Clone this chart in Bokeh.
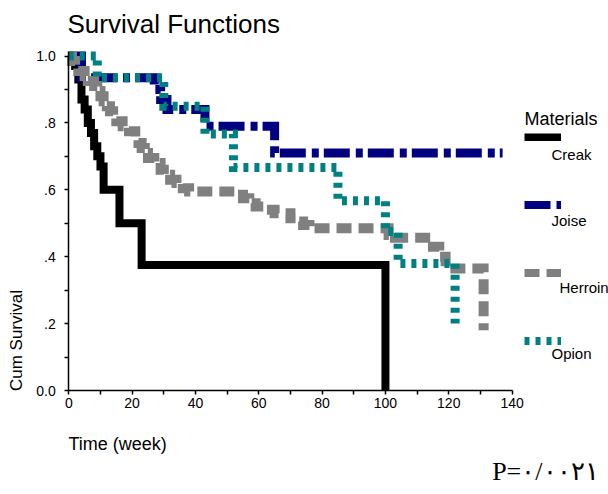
import math
from bokeh.plotting import figure
from bokeh.models import FixedTicker, Label, Legend, LegendItem, Range1d
from bokeh.core.properties import value
from bokeh.embed import file_html
from bokeh.resources import INLINE

# ---------------- data ----------------
groups = ["Creak", "Joise", "Herroin", "Opion"]

creak_time = [0, 2, 3, 4, 5, 6, 7, 8, 9, 10, 11, 16, 23, 100]
creak_surv = [1.0, .97, .93, .87, .84, .80, .77, .73, .70, .67, .60, .50, .375, 0.0]

joise_time = [0, 4, 27, 29, 31, 43, 65, 137]
joise_surv = [1.0, .935, .90, .87, .84, .79, .71, .71]

herroin_time = [0, 1, 2, 3, 5, 6, 8, 9, 10, 11, 12, 13, 14, 15, 17, 19, 21, 22, 23, 24,
                25, 27, 29, 30, 32, 34, 36, 38, 53, 55, 57, 59, 62, 65, 70, 72, 74, 76,
                101, 103, 115, 117, 119, 131]
herroin_surv = [1.0, .985, .97, .955, .94, .925, .91, .895, .88, .865, .85, .835, .82, .805,
                .79, .775, .755, .74, .725, .71, .695, .68, .66, .645, .63, .62, .605, .595,
                .585, .575, .56, .55, .54, .53, .515, .505, .495, .485, .465, .457, .43, .40,
                .365, .18]

opion_time = [0, 9, 30, 43, 52, 85, 100, 104, 122]
opion_surv = [1.0, .935, .85, .767, .667, .567, .475, .38, .20]

x_ticks = [0, 20, 40, 60, 80, 100, 120, 140]
x_minor = [10, 30, 50, 70, 90, 110, 130]
y_ticks = [0, 0.2, 0.4, 0.6, 0.8, 1]
y_tick_labels = ["0.0", ".2", ".4", ".6", ".8", "1.0"]
y_minor = [0.1, 0.3, 0.5, 0.7, 0.9]

title_text = "Survival Functions"
x_title = "Time (week)"
y_title = "Cum Survival"
legend_title = "Materials"
p_text = "P=\u0660/\u0660\u0660\u0662\u0661"

# ---------------- layout / styling ----------------
colors = ["#000000", "#000080", "#808080", "#008080"]
widths = [8, 9, 10, 9]
dashes = ["solid", "26 6 7 5", "15 7", "5 6"]
FONT = "Liberation Sans"

W, H = 608, 494
# plot area in canvas pixels: t=0 at x=68.3, t=140 at x=511.6; s=0 at y=390, s=1 at y=55.5
px0, px1 = 68.3, 511.6
py0, py1 = 390.0, 55.5
kx = (px1 - px0) / 140.0
ky = (py0 - py1) / 1.0
x_start = -px0 / kx
x_end = 140 + (W - px1) / kx
y_start = -(H - py0) / ky
y_end = 1 + py1 / ky

p = figure(width=W, height=H, output_backend="svg", toolbar_location=None,
           x_range=Range1d(x_start, x_end), y_range=Range1d(y_start, y_end),
           min_border=0, min_border_left=0, min_border_right=0,
           min_border_top=0, min_border_bottom=0)
p.outline_line_color = None
p.grid.visible = False
p.background_fill_color = "white"
p.border_fill_color = "white"

series = [(creak_time, creak_surv), (joise_time, joise_surv),
          (herroin_time, herroin_surv), (opion_time, opion_surv)]
renderers = []
for (t, s), c, w, d in zip(series, colors, widths, dashes):
    r = p.step(t, s, mode="after", line_color=c, line_width=w, line_dash=d,
               line_cap="butt", line_join="miter")
    renderers.append(r)

# axes, drawn at data position 0 inside the full-canvas frame
for ax in (p.xaxis[0], p.yaxis[0]):
    ax.fixed_location = 0
    ax.axis_line_width = 1.5
    ax.axis_line_color = "black"
    ax.major_tick_line_width = 1.5
    ax.minor_tick_line_width = 1.5
    ax.major_tick_out = 4
    ax.major_tick_in = 0
    ax.minor_tick_out = 4
    ax.minor_tick_in = 0
    ax.major_label_text_font = FONT
    ax.major_label_text_font_size = "14px"
    ax.major_label_text_color = "black"

p.xaxis.bounds = (0, 140)
p.yaxis.bounds = (0, 1.012)
p.xaxis.ticker = FixedTicker(ticks=x_ticks, minor_ticks=x_minor)
p.yaxis.ticker = FixedTicker(ticks=y_ticks, minor_ticks=y_minor)
p.yaxis.major_label_overrides = {k: v for k, v in zip(y_ticks, y_tick_labels)}
p.xaxis.major_label_standoff = 3
p.yaxis.major_label_standoff = 9

# page coords (top-left origin) -> screen units (origin bottom-left of canvas)
def sx(page_x):
    return page_x

def sy(page_y):
    return H - page_y

# legend swatches (labels drawn separately below their swatches)
legend = Legend(items=[LegendItem(label=value(" "), renderers=[r]) for r in renderers],
                location=(sx(524), sy(345)), glyph_width=37, glyph_height=8,
                label_height=8, label_width=0, label_standoff=0, spacing=60,
                padding=0, margin=0, label_text_font_size="1px",
                border_line_alpha=0, background_fill_alpha=0)
p.add_layout(legend)

def add_label(text, x, y, size, align="left", baseline="alphabetic", angle=0.0,
              font=FONT, shift=True):
    # empirical correction of the rendered baseline position
    dy = 0.38 * size if shift else 0.0
    p.add_layout(Label(x=sx(x), y=sy(y - dy), x_units="screen", y_units="screen",
                       text=text, text_font=font, text_font_size=f"{size}px",
                       text_align=align, text_baseline=baseline, angle=angle,
                       text_color="black"))

add_label(title_text, 67, 33, 26)
add_label(x_title, 68, 450, 18)
add_label(y_title, 16, 340, 17, align="center", baseline="middle",
          angle=math.pi / 2, shift=False)
add_label(legend_title, 524, 125, 18)
legend_text_pos = [(551, 160), (551, 226), (559, 293), (551, 359)]
for g, (lx, ly) in zip(groups, legend_text_pos):
    add_label(g, lx, ly, 15)
add_label(p_text, 598, 481, 26, align="right", font="Liberation Serif")

open("out.html", "w").write(file_html(p, INLINE))
